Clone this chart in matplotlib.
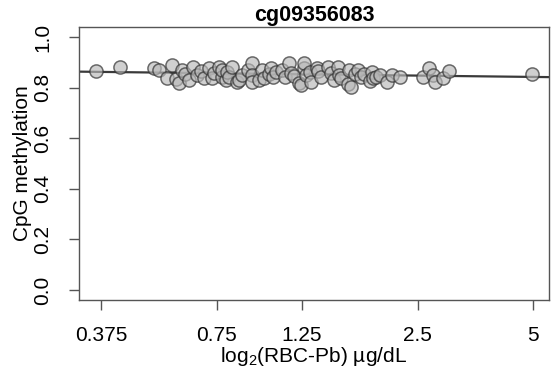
import matplotlib
matplotlib.use('Agg')
import matplotlib.pyplot as plt
import numpy as np

plt.rcParams['font.family'] = ['Liberation Sans', 'DejaVu Sans']
plt.rcParams['mathtext.fontset'] = 'custom'
plt.rcParams['mathtext.rm'] = 'Liberation Sans'
plt.rcParams['mathtext.default'] = 'rm'

# RBC-Pb (ug/dL) and CpG methylation
pb = [0.364, 0.420, 0.515, 0.531, 0.557, 0.574, 0.585, 0.599, 0.610, 0.621,
      0.636, 0.648, 0.667, 0.683, 0.696, 0.717, 0.726, 0.739, 0.761, 0.771,
      0.775, 0.794, 0.799, 0.808, 0.823, 0.848, 0.858, 0.874, 0.901, 0.923,
      0.923, 0.928, 0.968, 0.980, 0.997, 1.028, 1.040, 1.047, 1.072, 1.105,
      1.125, 1.159, 1.173, 1.194, 1.230, 1.245, 1.268, 1.268, 1.283, 1.307,
      1.322, 1.363, 1.371, 1.404, 1.456, 1.491, 1.518, 1.546, 1.564, 1.583,
      1.651, 1.661, 1.681, 1.712, 1.743, 1.785, 1.807, 1.873, 1.896, 1.907,
      1.953, 1.989, 2.075, 2.138, 2.243, 2.574, 2.669, 2.733, 2.766, 2.902,
      3.009, 4.95]
meth = [0.867, 0.882, 0.878, 0.871, 0.839, 0.890, 0.835, 0.820, 0.871, 0.855,
        0.831, 0.882, 0.851, 0.867, 0.839, 0.878, 0.839, 0.859, 0.882, 0.843,
        0.871, 0.831, 0.863, 0.843, 0.882, 0.824, 0.831, 0.851, 0.871, 0.898,
        0.851, 0.824, 0.831, 0.871, 0.839, 0.855, 0.878, 0.843, 0.863, 0.871,
        0.843, 0.898, 0.859, 0.847, 0.820, 0.812, 0.878, 0.898, 0.851, 0.863,
        0.824, 0.878, 0.867, 0.843, 0.882, 0.859, 0.831, 0.882, 0.851, 0.839,
        0.816, 0.871, 0.804, 0.855, 0.871, 0.843, 0.855, 0.827, 0.863, 0.839,
        0.843, 0.851, 0.824, 0.851, 0.843, 0.843, 0.878, 0.851, 0.824, 0.839,
        0.867, 0.855]

xticks = [0.375, 0.75, 1.25, 2.5, 5]
xtick_labels = ['0.375', '0.75', '1.25', '2.5', '5']
yticks = [0.0, 0.2, 0.4, 0.6, 0.8, 1.0]
ytick_labels = ['0.0', '0.2', '0.4', '0.6', '0.8', '1.0']

fig = plt.figure(figsize=(5.52, 3.75), dpi=100)
ax = fig.add_axes([0.1431, 0.2, 0.8514, 0.728])
ax.set_xscale('log', base=2)

# x range: data range plus 4% each side (in log2 space), like R
lx = np.log2(pb)
rng = lx.max() - lx.min()
xlo = 2 ** (lx.min() - 0.04 * rng)
xhi = 2 ** (lx.max() + 0.04 * rng)
ax.set_xlim(xlo, xhi)
ax.set_ylim(-0.04, 1.04)

# regression line on log2 scale across the whole panel
slope, icpt = np.polyfit(lx, meth, 1)
xs = np.geomspace(xlo, xhi, 50)
ax.plot(xs, icpt + slope * np.log2(xs), color='#3a3a3a', lw=1.6, zorder=2)

ax.scatter(pb, meth, s=90, facecolor=(0.72, 0.72, 0.72, 0.65),
           edgecolor=(0.2, 0.2, 0.2, 0.7), linewidth=1.1, zorder=3)

ax.xaxis.set_minor_locator(matplotlib.ticker.NullLocator())
ax.set_xticks(xticks)
ax.set_xticklabels(xtick_labels)
ax.set_yticks(yticks)
ax.set_yticklabels(ytick_labels, rotation=90, va='center')

for s in ax.spines.values():
    s.set_color('#555555')
    s.set_linewidth(1.0)
ax.tick_params(direction='out', length=7, width=1, color='#555555',
               labelsize=15, labelcolor='black')
ax.tick_params(axis='x', pad=12)
ax.tick_params(axis='y', pad=12)

ax.set_title('cg09356083', fontsize=15.5, fontweight='bold', pad=4)
ax.set_xlabel(r'log$_2$(RBC-Pb) µg/dL', fontsize=15, labelpad=0)
ax.set_ylabel('CpG methylation', fontsize=15, labelpad=1)

fig.savefig('out.png', dpi=100)
